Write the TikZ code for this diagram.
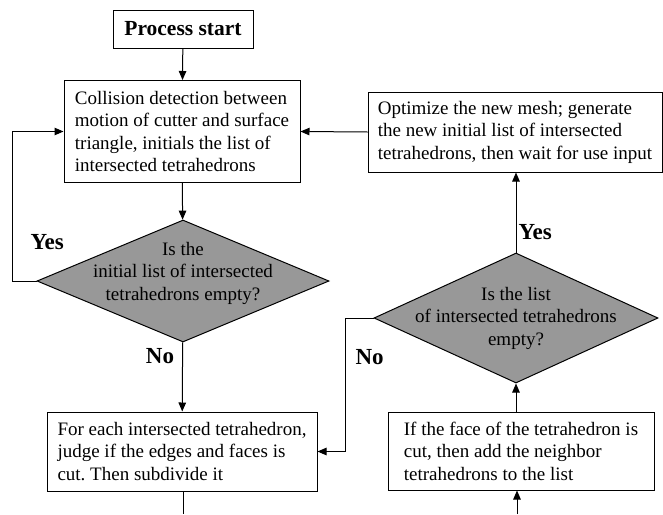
\documentclass[tikz,border=0pt]{standalone}
\usepackage{fontspec}
\setmainfont{Liberation Serif}
\usetikzlibrary{shapes.geometric,arrows.meta}
\definecolor{decgray}{RGB}{152,152,152}
\frenchspacing

\begin{document}
\begin{tikzpicture}[x=1pt,y=-1pt,line width=1pt,>={Triangle[length=9pt,width=7.5pt]},
  block/.style={draw,rectangle,align=left,inner xsep=9pt,font=\fontsize{19}{22.5}\selectfont},
  decision/.style={draw,diamond,fill=decgray,align=center,inner xsep=-30pt,inner ysep=-5pt,font=\fontsize{19}{22.5}\selectfont},
  answer/.style={font=\bfseries\fontsize{23}{26}\selectfont,inner sep=2pt}]
\useasboundingbox (0,0) rectangle (663,514);

\node[draw,minimum width=140pt,minimum height=38pt,font=\bfseries\fontsize{21.5}{24}\selectfont] (start) at (183,29) {Process start};
\node[block,minimum width=236pt,minimum height=102pt] (collide) at (182,131.5) {Collision detection between\\motion of cutter and surface\\triangle, initials the list of\\intersected tetrahedrons};
\node[decision,shape aspect=2.4,text depth=20pt,minimum width=292pt,minimum height=122pt] (dia_1) at (183,281) {Is the\\initial list of intersected\\tetrahedrons empty?};
\node[block,minimum width=270pt,minimum height=79pt] (foreach) at (182,451.5) {For each intersected tetrahedron,\\judge if the edges and faces is\\cut. Then subdivide it};
\node[block,minimum width=294pt,minimum height=80pt] (optimize) at (515,132) {Optimize the new mesh; generate\\the new initial list of intersected\\tetrahedrons, then wait for use input};
\node[decision,shape aspect=2.2,minimum width=284pt,minimum height=130pt] (dia_2) at (516,318) {Is the list\\of intersected tetrahedrons\\empty?};
\node[block,minimum width=266pt,minimum height=78pt] (ifface) at (521,451) {If the face of the tetrahedron is\\cut, then add the neighbor\\tetrahedrons to the list};

\coordinate (left_x) at (12,0);
\coordinate (mid_x) at (345,0);
\coordinate (out_l) at (183,514);
\coordinate (in_r) at (517,514);

\path[->]
(start) edge (collide)
(collide) edge (dia_1)
(dia_1) edge node[answer,pos=0.2,left=6pt] {No} (foreach)
(optimize.west) edge (collide.east)
(ifface.north -| dia_2.south) edge (dia_2.south)
(dia_2.north) edge node[answer,pos=0.25,right=0pt] {Yes} (dia_2.north |- optimize.south)
(in_r) edge (in_r |- ifface.south)
;
\draw (foreach.south -| out_l) -- (out_l);
\draw[->] (dia_1.west) -- (dia_1.west -| left_x) -- node[answer,pos=0.26,right=16pt] {Yes} (collide.west -| left_x) -- (collide.west);
\draw[->] (dia_2.west) -- (dia_2.west -| mid_x) -- node[answer,pos=0.29,right=8pt] {No} (foreach.east -| mid_x) -- (foreach.east);
\end{tikzpicture}
\end{document}
